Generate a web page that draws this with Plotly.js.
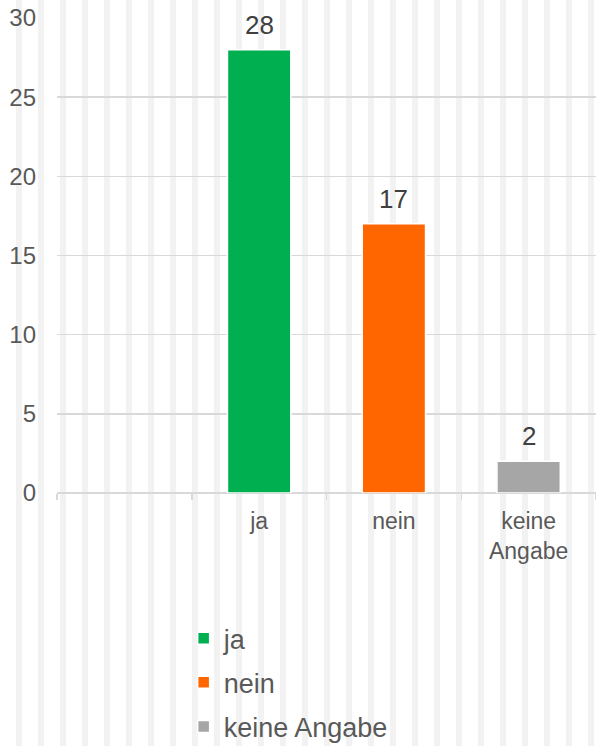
<!DOCTYPE html>
<html><head><meta charset="utf-8">
<script src="https://cdn.plot.ly/plotly-3.0.1.min.js"></script>
<style>
html,body{margin:0;padding:0;}
body{width:596px;height:746px;overflow:hidden;
background:repeating-linear-gradient(90deg,#ffffff 0px,#ffffff 16px,#f2f2f2 16px,#f2f2f2 22px);}
#chart{width:596px;height:746px;}
</style></head>
<body><div id="chart"></div>
<script>
const categories = ["ja", "nein", "keine Angabe"];
const tickLabels = ["ja", "nein", "keine<br>Angabe"];
const values = [28, 17, 2];
const colors = ["#00b050", "#ff6600", "#a6a6a6"];
const yTicks = [0, 5, 10, 15, 20, 25, 30];

const FONT = "Liberation Sans, Arial, sans-serif";

const traces = categories.map((c, i) => ({
  type: "bar",
  name: c,
  x: [c],
  y: [values[i]],
  width: 0.47,
  legendgroup: "g" + i,
  marker: {color: colors[i], line: {color: "#ffffff", width: 1.5}},
  hoverinfo: "none"
}));

// boundary ticks on an overlay axis
traces.push({
  type: "scatter", x: [-1.5, 2.5], y: [0, 0], xaxis: "x2", yaxis: "y",
  mode: "none", showlegend: false, hoverinfo: "none"
});

const annotations = categories.map((c, i) => ({
  x: c, y: values[i], xref: "x", yref: "y",
  text: String(values[i]), showarrow: false,
  yanchor: "bottom", yshift: 8,
  font: {family: FONT, size: 26, color: "#404040"}
}));

const layout = {
  width: 596, height: 746,
  margin: {l: 57, r: 0, t: 18, b: 253, autoexpand: false},
  paper_bgcolor: "rgba(0,0,0,0)",
  plot_bgcolor: "rgba(0,0,0,0)",
  barmode: "overlay",
  showlegend: true,
  legend: {
    x: 0.235, xanchor: "left", y: -0.255, yanchor: "top",
    orientation: "v", traceorder: "grouped", tracegroupgap: 6,
    itemwidth: 30,
    font: {family: FONT, size: 27, color: "#595959"},
    bgcolor: "rgba(0,0,0,0)"
  },
  xaxis: {
    type: "category",
    range: [-1.5, 2.5],
    tickvals: categories, ticktext: tickLabels,
    ticks: "", showgrid: false, showline: false, zeroline: false,
    tickfont: {family: FONT, size: 23, color: "#595959"},
    ticklabelstandoff: 12,
    fixedrange: true
  },
  xaxis2: {
    overlaying: "x", range: [-1.5, 2.5], anchor: "y",
    tickvals: [-1.5, -0.5, 0.5, 1.5, 2.5], showticklabels: false,
    ticks: "outside", ticklen: 6, tickwidth: 1.5, tickcolor: "#d9d9d9",
    showgrid: false, zeroline: false, showline: false
  },
  yaxis: {
    range: [0, 30], tickvals: yTicks,
    showgrid: true, gridcolor: "#d9d9d9", gridwidth: 1.5,
    zeroline: true, zerolinecolor: "#d9d9d9", zerolinewidth: 1.5,
    ticks: "", showline: false,
    tickfont: {family: FONT, size: 24, color: "#595959"},
    ticklabelstandoff: 20,
    fixedrange: true
  },
  annotations: annotations
};

Plotly.newPlot("chart", traces, layout, {displayModeBar: false, staticPlot: true});
</script>
</body></html>
